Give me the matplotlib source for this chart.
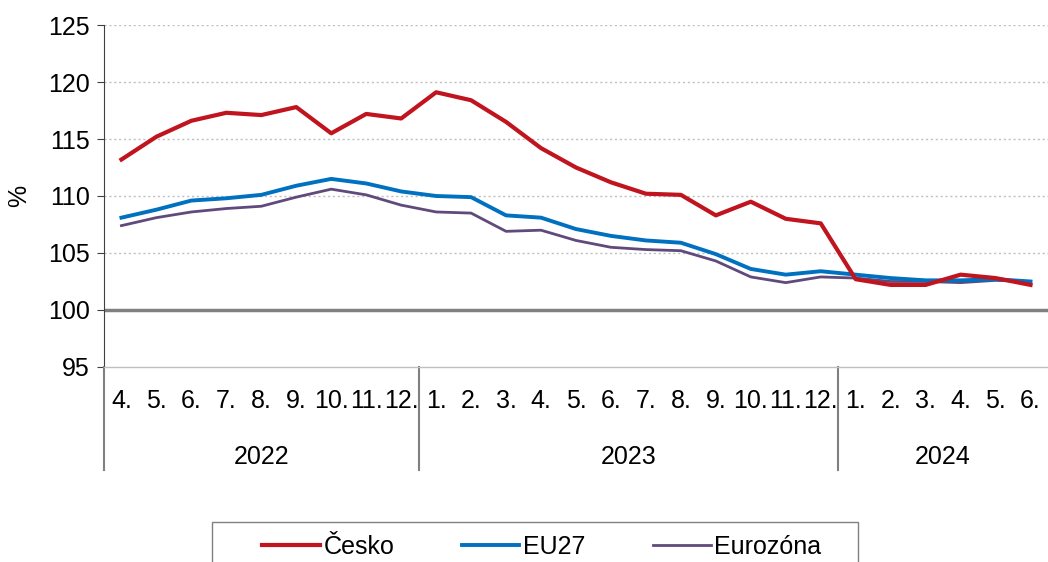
import matplotlib.pyplot as plt
from matplotlib.patches import Rectangle
from matplotlib.transforms import blended_transform_factory

plt.rcParams['font.family'] = ['Liberation Sans', 'DejaVu Sans']

months = ['4.', '5.', '6.', '7.', '8.', '9.', '10.', '11.', '12.',
          '1.', '2.', '3.', '4.', '5.', '6.', '7.', '8.', '9.', '10.', '11.', '12.',
          '1.', '2.', '3.', '4.', '5.', '6.']
years = ['2022', '2023', '2024']
year_counts = [9, 12, 6]

cesko = [113.2, 115.2, 116.6, 117.3, 117.1, 117.8, 115.5, 117.2, 116.8,
         119.1, 118.4, 116.5, 114.2, 112.5, 111.2, 110.2, 110.1, 108.3, 109.5, 108.0, 107.6,
         102.7, 102.2, 102.2, 103.1, 102.8, 102.2]
eu27 = [108.1, 108.8, 109.6, 109.8, 110.1, 110.9, 111.5, 111.1, 110.4,
        110.0, 109.9, 108.3, 108.1, 107.1, 106.5, 106.1, 105.9, 104.9, 103.6, 103.1, 103.4,
        103.1, 102.8, 102.6, 102.6, 102.7, 102.5]
eurozona = [107.4, 108.1, 108.6, 108.9, 109.1, 109.9, 110.6, 110.1, 109.2,
            108.6, 108.5, 106.9, 107.0, 106.1, 105.5, 105.3, 105.2, 104.3, 102.9, 102.4, 102.9,
            102.8, 102.5, 102.5, 102.4, 102.6, 102.5]

fs = 18

fig = plt.figure(figsize=(10.48, 5.62), dpi=100)
ax = fig.add_axes([0.0992, 0.347, 0.9008, 0.6085])

x = list(range(len(months)))
ax.plot(x, cesko, color='#C0141E', lw=3.0, label='Česko', zorder=5)
ax.plot(x, eu27, color='#0070C0', lw=2.8, label='EU27', zorder=4)
ax.plot(x, eurozona, color='#604A7B', lw=2.0, label='Eurozóna', zorder=3)

ax.set_xlim(-0.5, len(months) - 0.5)
ax.set_ylim(95, 125)
ax.set_yticks(range(95, 126, 5))
for v in range(105, 126, 5):
    ax.axhline(v, color='#BFBFBF', lw=1, ls=(0, (1.5, 2)), zorder=1)
ax.axhline(100, color='#808080', lw=2.5, zorder=2)

ax.spines['top'].set_visible(False)
ax.spines['right'].set_visible(False)
ax.spines['bottom'].set_color('#BFBFBF')
ax.spines['bottom'].set_linewidth(1)
ax.spines['left'].set_color('#404040')
ax.tick_params(axis='y', direction='out', length=5, color='#404040', labelsize=fs, pad=5)
ax.set_ylabel('%', fontsize=fs, labelpad=12)

ax.set_xticks(x)
ax.set_xticklabels(months, fontsize=fs)
ax.tick_params(axis='x', length=0, pad=16)

trans = blended_transform_factory(ax.transData, ax.transAxes)
start = 0
bounds = [-0.5]
for yr, n in zip(years, year_counts):
    mid = start + (n - 1) / 2
    ax.text(mid, -0.262, yr, transform=trans, ha='center', va='center', fontsize=fs)
    start += n
    bounds.append(start - 0.5)
for b in bounds[:-1]:
    ax.plot([b, b], [0, -0.30], transform=trans, color='#808080', lw=1.5, clip_on=False)

fig.patches.append(Rectangle((212 / 1048, -0.05), (858 - 212) / 1048, 0.05 + (562 - 522) / 562,
                             transform=fig.transFigure, fill=False, edgecolor='#808080', lw=1))
fig.legend(loc='center', bbox_to_anchor=(0.517, 0.027), ncol=3, fontsize=fs,
           frameon=False, handlelength=2.3, handletextpad=0.15, columnspacing=2.7,
           borderpad=0)

fig.savefig('out.png', dpi=100)
